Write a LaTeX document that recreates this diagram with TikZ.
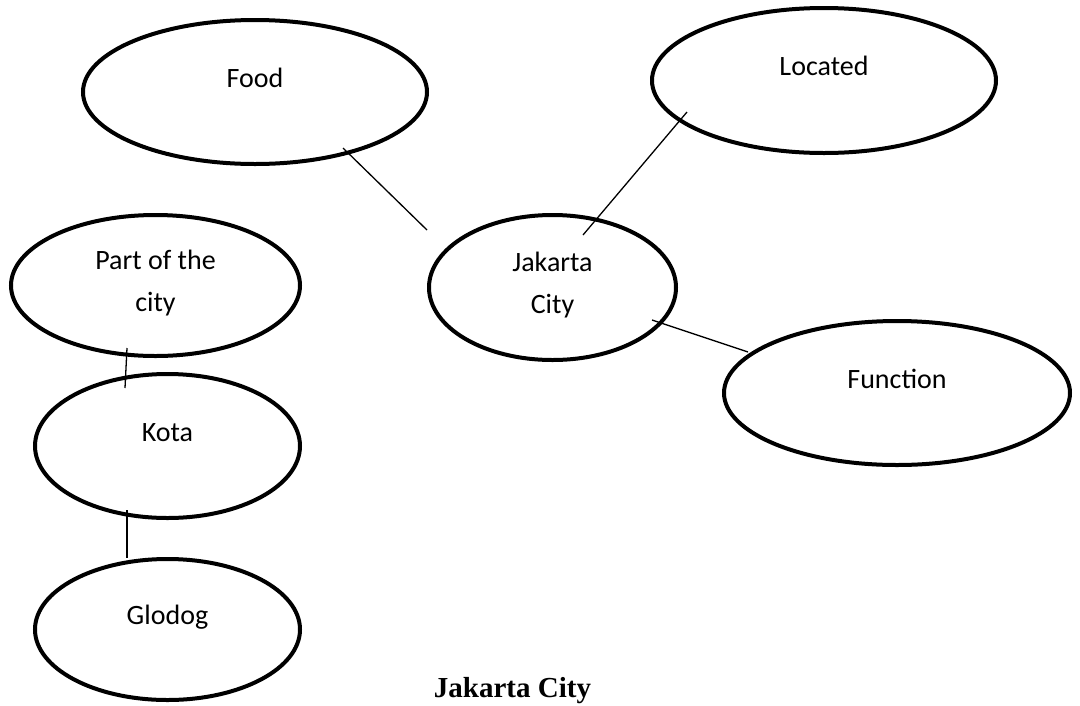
\documentclass[tikz,border=0pt]{standalone}
\usepackage{fontspec}
\setmainfont{Carlito}
\newfontfamily\titlefont{Liberation Serif}
\usetikzlibrary{shapes.geometric,calc}
\tikzset{
  concept/.style={ellipse, draw=black, line width=4pt, inner sep=0pt, fill=white},
  lbl/.style={font=\fontsize{28}{42}\selectfont, inner sep=0pt, text height=18pt, text depth=0pt, yshift=14pt},
  lbltwo/.style={font=\fontsize{28}{42}\selectfont, inner sep=0pt, align=center, yshift=2pt},
  link/.style={draw=black, line width=1.3pt},
}
\begin{document}
\begin{tikzpicture}[x=1pt,y=-1pt]
\useasboundingbox[fill=white] (0,0) rectangle (1080,705);
\node[concept, minimum width=344pt, minimum height=144pt, label={[lbl]center:Food}] (food) at (255,92) {};
\node[concept, minimum width=344pt, minimum height=145pt, label={[lbl]center:Located}] (located) at (824,80.5) {};
\node[concept, minimum width=289pt, minimum height=141pt, label={[lbltwo]center:Part of the\\city}] (part) at (155.5,285.5) {};
\node[concept, minimum width=247pt, minimum height=145pt, label={[lbltwo]center:Jakarta\\City}] (jakarta) at (552.5,287.5) {};
\node[concept, minimum width=346pt, minimum height=144pt, label={[lbl]center:Function}] (function) at (897,393) {};
\node[concept, minimum width=265pt, minimum height=144pt, label={[lbl]center:Kota}] (kota) at (167.5,446) {};
\node[concept, minimum width=265pt, minimum height=141pt, label={[lbl]center:Glodog}] (glodog) at (167.5,629.5) {};
\draw[link] ($(food.center)+(88,56)$) -- ($(jakarta.center)+(-125.5,-57.5)$);
\draw[link] ($(located.center)+(-137,31.5)$) -- ($(jakarta.center)+(30.5,-52.5)$);
\draw[link] ($(jakarta.center)+(99.5,32.5)$) -- ($(function.center)+(-149,-41)$);
\draw[link] ($(part.center)+(-28.5,62.5)$) -- ($(kota.center)+(-42.5,-58)$);
\draw[link] ($(kota.center)+(-40.5,64)$) -- ($(glodog.center)+(-40.5,-71.5)$);
\node[font=\titlefont\bfseries\fontsize{29}{34}\selectfont, anchor=base, inner sep=0pt] (title) at (512.5,697) {Jakarta City};
\end{tikzpicture}
\end{document}
